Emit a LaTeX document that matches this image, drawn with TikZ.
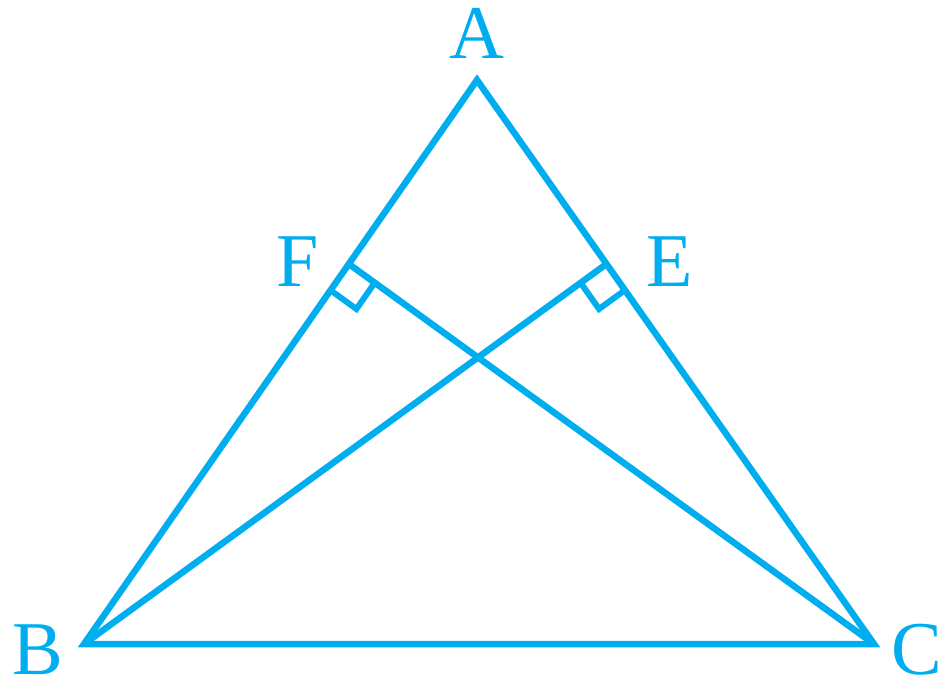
\documentclass[tikz,border=0pt]{standalone}
\usepackage{fontspec}
\setmainfont{Liberation Serif}
\usetikzlibrary{calc}
\definecolor{geo}{RGB}{0,174,239}
\tikzset{
  edge/.style={draw=geo, line width=6.5pt, line join=miter, line cap=butt},
  lbl/.style={text=geo, font=\fontsize{76}{76}\selectfont, inner sep=0pt},
  ramark/.style={draw=geo, line width=6pt}
}
\begin{document}
\begin{tikzpicture}[x=1pt,y=-1pt]
\useasboundingbox (0,0) rectangle (946,686);
\coordinate (A) at (477,80);
\coordinate (B) at (84,644);
\coordinate (C) at (874,644);
\coordinate (F) at ($(A)!0.3262!(B)$);
\coordinate (E) at ($(A)!0.3262!(C)$);
\draw[edge] (A) -- (B) -- (C) -- cycle;
\draw[edge] (B) -- (E);
\draw[edge] (C) -- (F);
% right-angle marks
\coordinate (F1) at ($(F)!32pt!(B)$);
\coordinate (F2) at ($(F)!32pt!(C)$);
\draw[ramark] (F1) -- ($(F1)+(F2)-(F)$) -- (F2);
\coordinate (E1) at ($(E)!32pt!(C)$);
\coordinate (E2) at ($(E)!32pt!(B)$);
\draw[ramark] (E1) -- ($(E1)+(E2)-(E)$) -- (E2);
\node[lbl] (lA) at (477,33) {A};
\node[lbl] (lF) at (298,262) {F};
\node[lbl] (lE) at (670,262) {E};
\node[lbl] (lB) at (38,650) {B};
\node[lbl] (lC) at (917,650) {C};
\end{tikzpicture}
\end{document}
